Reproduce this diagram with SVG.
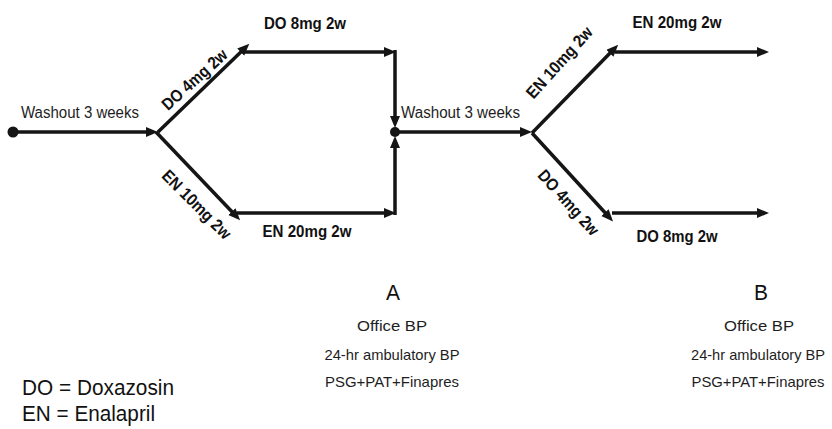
<svg xmlns="http://www.w3.org/2000/svg" width="832" height="429" viewBox="0 0 832 429">
<defs>
<style>
.ln{stroke:#151515;stroke-width:3.5;fill:none;marker-end:url(#ah)}
.dot{fill:#151515}
.reg{font-family:"Liberation Sans",Arial,sans-serif;font-size:16px;fill:#1e1e1e}
.pan{font-family:"Liberation Sans",Arial,sans-serif;font-size:15px;fill:#1e1e1e}
.bld{font-family:"Liberation Sans",Arial,sans-serif;font-size:17px;font-weight:bold;fill:#111}
.big{font-family:"Liberation Sans",Arial,sans-serif;font-size:22px;fill:#111}
.mid{text-anchor:middle}
</style>
<marker id="ah" markerUnits="userSpaceOnUse" markerWidth="13" markerHeight="11" refX="6" refY="5" orient="auto" viewBox="0 0 13 11">
<path d="M0,0 L12,5 L0,10 z" fill="#151515"/>
</marker>
</defs>
<rect width="832" height="429" fill="#fff"/>
<g id="connectors">
<line class="ln" x1="13" y1="132" x2="152" y2="132"/>
<line class="ln" x1="158" y1="132" x2="245" y2="48"/>
<line class="ln" x1="243" y1="52" x2="390" y2="52"/>
<line class="ln" x1="395" y1="50" x2="395" y2="122"/>
<line class="ln" x1="156" y1="132" x2="236" y2="216"/>
<line class="ln" x1="237" y1="213" x2="390" y2="213"/>
<line class="ln" x1="395" y1="215" x2="395" y2="142"/>
<line class="ln" x1="395" y1="132" x2="526" y2="132"/>
<line class="ln" x1="532" y1="133" x2="614" y2="49"/>
<line class="ln" x1="615" y1="52" x2="763" y2="52"/>
<line class="ln" x1="532" y1="133" x2="609" y2="217"/>
<line class="ln" x1="612" y1="213" x2="763" y2="213"/>
</g>
<g id="start"><circle class="dot" cx="13" cy="132" r="5.5"/></g>
<g id="junction"><circle class="dot" cx="395" cy="132" r="5"/></g>
<g id="washout1"><text class="reg" x="21" y="118" textLength="118" lengthAdjust="spacingAndGlyphs">Washout 3 weeks</text></g>
<g id="washout2"><text class="reg" x="401" y="118" textLength="119" lengthAdjust="spacingAndGlyphs">Washout 3 weeks</text></g>
<g id="do4-left"><text class="bld mid" transform="translate(195,80) rotate(-42)" y="5" textLength="82" lengthAdjust="spacingAndGlyphs">DO 4mg 2w</text></g>
<g id="do8-left"><text class="bld mid" x="305" y="29" textLength="82" lengthAdjust="spacingAndGlyphs">DO 8mg 2w</text></g>
<g id="en10-left"><text class="bld mid" transform="translate(196,205) rotate(45)" y="5" textLength="90" lengthAdjust="spacingAndGlyphs">EN 10mg 2w</text></g>
<g id="en20-left"><text class="bld mid" x="307" y="237" textLength="89" lengthAdjust="spacingAndGlyphs">EN 20mg 2w</text></g>
<g id="en10-right"><text class="bld mid" transform="translate(560,63) rotate(-48)" y="5" textLength="90" lengthAdjust="spacingAndGlyphs">EN 10mg 2w</text></g>
<g id="en20-right"><text class="bld mid" x="677" y="28" textLength="89" lengthAdjust="spacingAndGlyphs">EN 20mg 2w</text></g>
<g id="do4-right"><text class="bld mid" transform="translate(568,203) rotate(48)" y="5" textLength="82" lengthAdjust="spacingAndGlyphs">DO 4mg 2w</text></g>
<g id="do8-right"><text class="bld mid" x="677" y="242" textLength="81" lengthAdjust="spacingAndGlyphs">DO 8mg 2w</text></g>
<g id="panel-a">
<text class="big mid" x="393" y="300" textLength="14" lengthAdjust="spacingAndGlyphs">A</text>
<text class="pan mid" x="392" y="331" textLength="70" lengthAdjust="spacingAndGlyphs">Office BP</text>
<text class="pan mid" x="392" y="360" textLength="135" lengthAdjust="spacingAndGlyphs">24-hr ambulatory BP</text>
<text class="pan mid" x="392" y="387" textLength="134" lengthAdjust="spacingAndGlyphs">PSG+PAT+Finapres</text>
</g>
<g id="panel-b">
<text class="big mid" x="761" y="300" textLength="14" lengthAdjust="spacingAndGlyphs">B</text>
<text class="pan mid" x="759" y="331" textLength="70" lengthAdjust="spacingAndGlyphs">Office BP</text>
<text class="pan mid" x="758" y="360" textLength="134" lengthAdjust="spacingAndGlyphs">24-hr ambulatory BP</text>
<text class="pan mid" x="758" y="387" textLength="133" lengthAdjust="spacingAndGlyphs">PSG+PAT+Finapres</text>
</g>
<g id="legend">
<text class="big" x="22" y="395" textLength="152" lengthAdjust="spacingAndGlyphs">DO = Doxazosin</text>
<text class="big" x="22" y="421" textLength="133" lengthAdjust="spacingAndGlyphs">EN = Enalapril</text>
</g>
</svg>
